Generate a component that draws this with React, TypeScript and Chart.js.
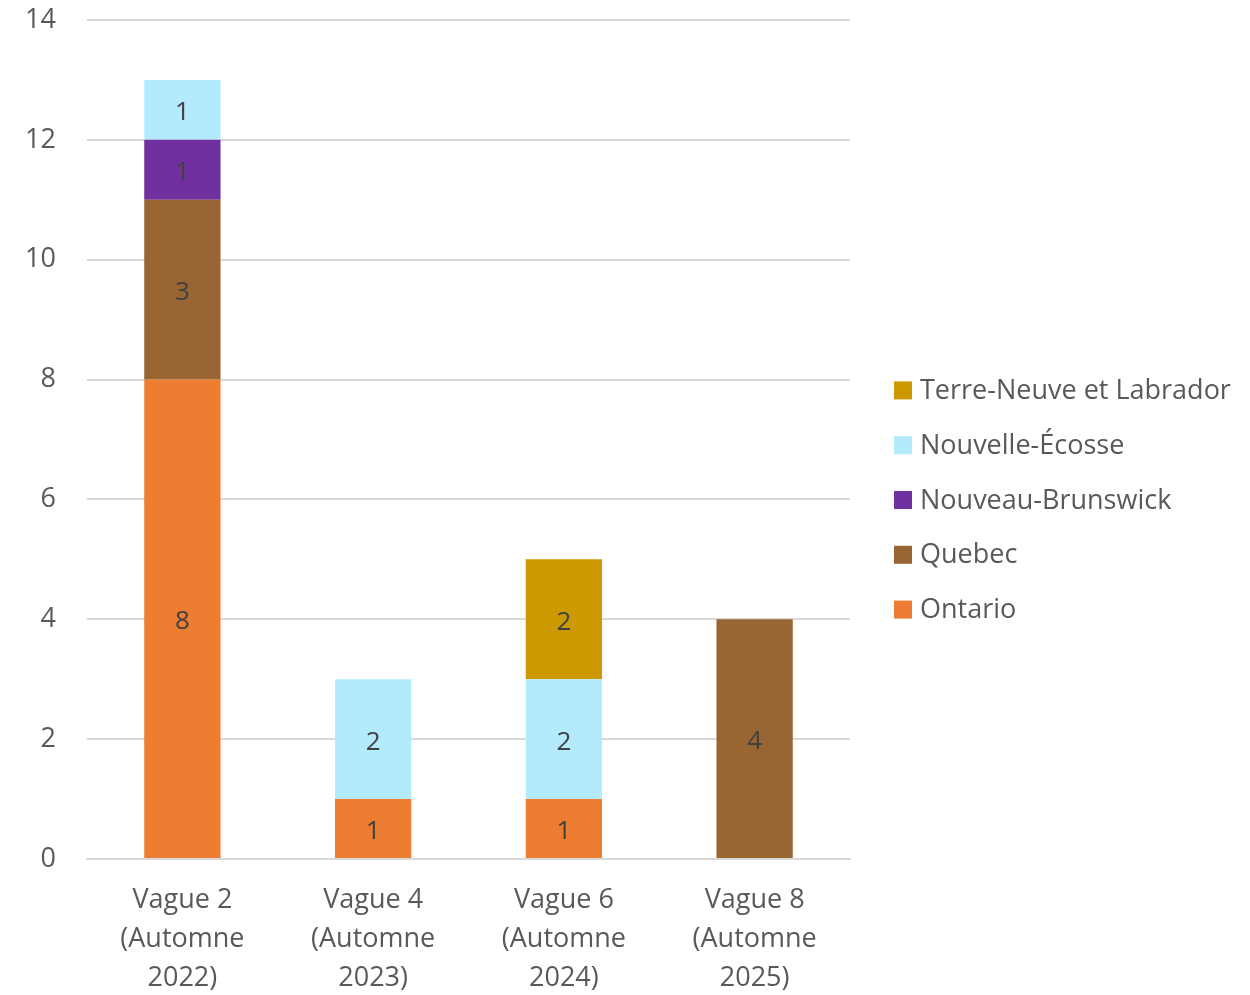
import React, { useEffect, useRef } from "react";
import { Chart, registerables } from "chart.js";

Chart.register(...registerables);

const categories: string[][] = [
  ["Vague 2", "(Automne", "2022)"],
  ["Vague 4", "(Automne", "2023)"],
  ["Vague 6", "(Automne", "2024)"],
  ["Vague 8", "(Automne", "2025)"],
];

const ontario = [8, 1, 1, null];
const quebec = [3, null, null, 4];
const nouveauBrunswick = [1, null, null, null];
const nouvelleEcosse = [1, 2, 2, null];
const terreNeuve = [null, null, 2, null];

const yTicks = { min: 0, max: 14, step: 2 };

const FONT = "'Open Sans', 'Noto Sans', sans-serif";
const FS = 27;

const labelPlugin = {
  id: "barLabels",
  afterDatasetsDraw(chart: any) {
    const ctx = chart.ctx;
    ctx.save();
    ctx.font = `26px ${FONT}`;
    ctx.fillStyle = "#404040";
    ctx.textAlign = "center";
    ctx.textBaseline = "middle";
    chart.data.datasets.forEach((ds: any, i: number) => {
      const meta = chart.getDatasetMeta(i);
      meta.data.forEach((bar: any, j: number) => {
        const v = ds.data[j];
        if (v === null || v === undefined || v === 0) return;
        const p = bar.getCenterPoint();
        ctx.fillText(String(v), p.x, p.y + 3);
      });
    });
    ctx.restore();
  },
};

const legendPlugin = {
  id: "sideLegend",
  afterDraw(chart: any) {
    const ctx = chart.ctx;
    const items = chart.data.datasets.slice().reverse();
    const spacing = 54.8;
    const cy = 500;
    const startY = cy - ((items.length - 1) * spacing) / 2;
    const boxX = chart.chartArea.right + 44;
    ctx.save();
    ctx.font = `${FS}px ${FONT}`;
    ctx.textAlign = "left";
    ctx.textBaseline = "middle";
    items.forEach((ds: any, i: number) => {
      const y = startY + i * spacing;
      ctx.fillStyle = ds.backgroundColor;
      ctx.fillRect(boxX, y - 9, 18, 18);
      ctx.fillStyle = "#595959";
      ctx.fillText(ds.label, boxX + 26, y + 1);
    });
    ctx.restore();
  },
};

export default function App() {
  const ref = useRef<HTMLCanvasElement>(null);
  useEffect(() => {
    document.body.style.margin = "0";
    const common = { barPercentage: 0.4, categoryPercentage: 1, borderWidth: 0 };
    const chart = new Chart(ref.current!, {
      type: "bar",
      data: {
        labels: categories,
        datasets: [
          { label: "Ontario", data: ontario, backgroundColor: "#ED7D31", ...common },
          { label: "Quebec", data: quebec, backgroundColor: "#996633", ...common },
          { label: "Nouveau-Brunswick", data: nouveauBrunswick, backgroundColor: "#7030A0", ...common },
          { label: "Nouvelle-Écosse", data: nouvelleEcosse, backgroundColor: "#B3EBFC", ...common },
          { label: "Terre-Neuve et Labrador", data: terreNeuve, backgroundColor: "#CC9900", ...common },
        ],
      },
      options: {
        responsive: false,
        animation: false,
        layout: { padding: { top: 20, right: 400, left: 0, bottom: 0 } },
        plugins: {
          tooltip: { enabled: false },
          legend: { display: false },
        },
        scales: {
          x: {
            stacked: true,
            grid: { display: false, drawTicks: false },
            border: { display: true, color: "#D9D9D9", width: 2 },
            ticks: {
              color: "#595959",
              font: { family: FONT, size: FS, lineHeight: 1.44 },
              padding: 22,
              maxRotation: 0,
            },
            afterFit: (s: any) => {
              s.height = 136;
              s.paddingLeft = 0;
              s.paddingRight = 0;
            },
          },
          y: {
            stacked: true,
            min: yTicks.min,
            max: yTicks.max,
            ticks: {
              stepSize: yTicks.step,
              color: "#595959",
              font: { family: FONT, size: FS },
              padding: 31,
            },
            grid: { color: "#D9D9D9", lineWidth: 2, drawTicks: false },
            border: { display: false },
            afterFit: (s: any) => {
              s.width = 87;
              s.paddingTop = 0;
              s.paddingBottom = 0;
            },
          },
        },
      },
      plugins: [labelPlugin, legendPlugin],
    });
    return () => chart.destroy();
  }, []);
  return <canvas ref={ref} width={1250} height={995} style={{ display: "block" }} />;
}
